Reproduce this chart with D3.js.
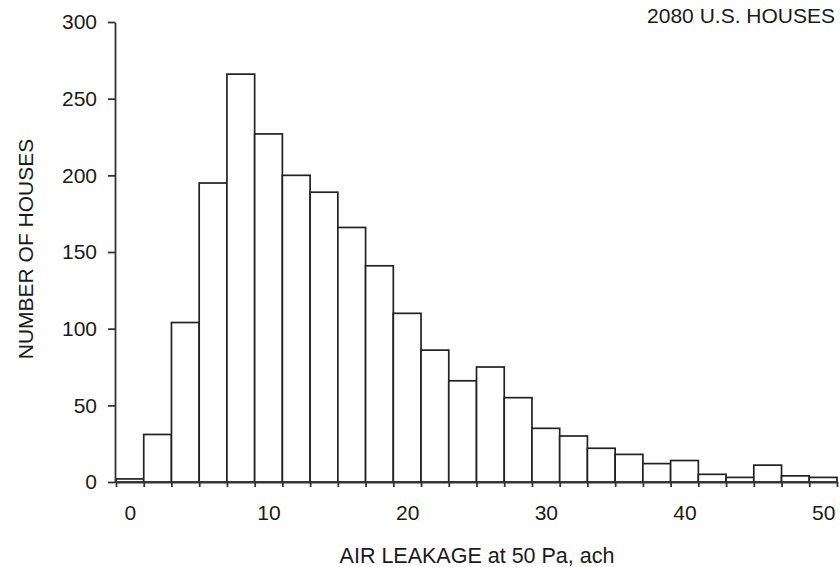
<!DOCTYPE html>
<html>
<head>
<meta charset="utf-8">
<script src="https://cdn.jsdelivr.net/npm/d3@7"></script>
<style>
  body { margin: 0; background: #fff; }
  svg text { font-family: "Liberation Sans", Arial, sans-serif; fill: #1a1a1a; }
  .axis path, .axis line { stroke: #333; stroke-width: 1.8; }
  .bar { fill: #fff; stroke: #222; stroke-width: 1.7; }
</style>
</head>
<body>
<div id="chart"></div>
<script>
// data: bins are 2 ach wide, centred on even values
var binCenters = [0, 2, 4, 6, 8, 10, 12, 14, 16, 18, 20, 22, 24, 26, 28, 30, 32, 34, 36, 38, 40, 42, 44, 46, 48, 50]
var houseCounts = [2, 31, 104, 195, 266, 227, 200, 189, 166, 141, 110, 86, 66, 75, 55, 35, 30, 22, 18, 12, 14, 5, 3, 11, 4, 3]
var binWidth = 2
var xTickLabels = [0, 10, 20, 30, 40, 50]
var yTickLabels = [0, 50, 100, 150, 200, 250, 300]

var width = 840,
    height = 567

const svg = d3.select("#chart")
  .append("svg")
    .attr("width", width)
    .attr("height", height)

// scales
const x = d3.scaleLinear()
    .domain([-1, 51])
    .range([116, 837])

const y = d3.scaleLinear()
    .domain([0, 300])
    .range([482, 22])

const bins = binCenters.map(function(c, i) {
  return { x0: c - binWidth / 2, x1: c + binWidth / 2, n: houseCounts[i] }
})

// bars
svg.append("g")
  .selectAll("rect")
  .data(bins)
  .join("rect")
    .attr("class", "bar")
    .attr("x", function(d) { return x(d.x0) })
    .attr("width", function(d) { return x(d.x1) - x(d.x0) })
    .attr("y", function(d) { return y(d.n) })
    .attr("height", function(d) { return y(0) - y(d.n) })

// y axis
svg.append("g")
    .attr("class", "axis")
    .attr("transform", "translate(115,0)")
  .call(d3.axisLeft(y).tickValues(yTickLabels).tickSize(7).tickPadding(11).tickSizeOuter(0))
  .call(function(g) { g.selectAll("text").style("font-size", "21px").attr("fill", "#1a1a1a") })

// x axis: ticks on bin edges
const edges = bins.map(function(d) { return d.x0 }).concat([51])
svg.append("g")
    .attr("class", "axis")
    .attr("transform", "translate(0," + y(0) + ")")
  .call(d3.axisBottom(x).tickValues(edges).tickSize(5).tickSizeOuter(0).tickFormat(""))

// x labels, no tick marks
svg.append("g")
    .attr("transform", "translate(0," + y(0) + ")")
  .call(d3.axisBottom(x).tickValues(xTickLabels).tickSize(0).tickPadding(23))
  .call(function(g) {
    g.select(".domain").remove()
    g.selectAll("text").style("font-size", "21px").attr("fill", "#1a1a1a")
  })

// titles
svg.append("text")
    .attr("x", 835)
    .attr("y", 23)
    .attr("text-anchor", "end")
    .style("font-size", "21px")
  .text("2080 U.S. HOUSES")

svg.append("text")
    .attr("x", 477)
    .attr("y", 563)
    .attr("text-anchor", "middle")
    .style("font-size", "21.5px")
  .text("AIR LEAKAGE at 50 Pa, ach")

svg.append("text")
    .attr("transform", "translate(33,249) rotate(-90)")
    .attr("text-anchor", "middle")
    .style("font-size", "21px")
  .text("NUMBER OF HOUSES")
</script>
</body>
</html>
